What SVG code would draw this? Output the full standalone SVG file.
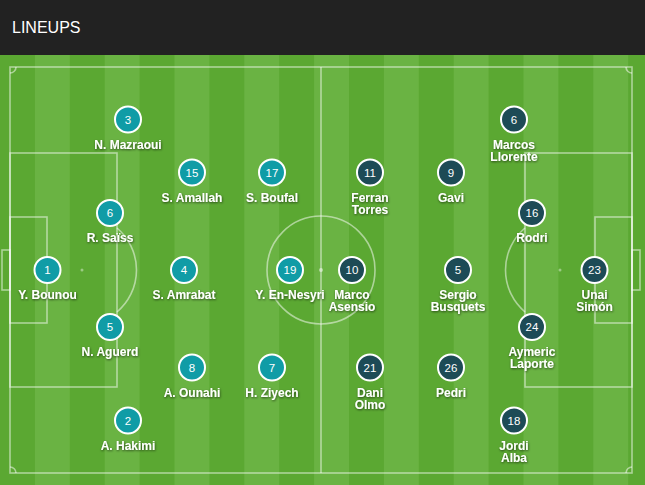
<svg xmlns="http://www.w3.org/2000/svg" width="645" height="485" viewBox="0 0 645 485">
<defs>
<style>
.hdr{font-family:"Liberation Sans",Arial,sans-serif;font-size:16px;fill:#fff}
.ln{fill:none;stroke:#fff;stroke-opacity:.5;stroke-width:1.6}
.dk{fill:#5ba832}
.lt{fill:#6ab343}
.mor{fill:#109ca6;stroke:#fff;stroke-width:2}
.esp{fill:#1d4b56;stroke:#fff;stroke-width:2}
.num{font-family:"Liberation Sans",Arial,sans-serif;font-size:11.5px;fill:#fff;text-anchor:middle}
.nm{font-family:"Liberation Sans",Arial,sans-serif;font-size:12px;font-weight:bold;fill:#fff;text-anchor:middle;filter:url(#sh)}
</style>
<filter id="sh" x="-20%" y="-40%" width="140%" height="180%">
<feDropShadow dx="0.5" dy="1" stdDeviation="0.8" flood-color="#000" flood-opacity="0.6"/>
</filter>
</defs>
<rect x="0" y="0" width="645" height="55" fill="#222"/>
<text class="hdr" x="12" y="33">LINEUPS</text>
<g id="pitch">
<rect x="0" y="55" width="645" height="430" class="dk"/>
<rect x="34.9" y="55" width="34.9" height="430" class="lt"/>
<rect x="104.7" y="55" width="34.9" height="430" class="lt"/>
<rect x="174.5" y="55" width="34.9" height="430" class="lt"/>
<rect x="244.3" y="55" width="34.9" height="430" class="lt"/>
<rect x="314.1" y="55" width="34.9" height="430" class="lt"/>
<rect x="383.9" y="55" width="34.9" height="430" class="lt"/>
<rect x="453.7" y="55" width="34.9" height="430" class="lt"/>
<rect x="523.5" y="55" width="34.9" height="430" class="lt"/>
<rect x="593.3" y="55" width="34.9" height="430" class="lt"/>
<rect x="10" y="67" width="622" height="406" class="ln"/>
<line x1="321" y1="67" x2="321" y2="473" class="ln"/>
<circle cx="321" cy="270" r="54" class="ln"/>
<circle cx="321" cy="270" r="2" fill="#fff" fill-opacity=".5"/>
<rect x="10" y="153" width="107" height="234" class="ln"/>
<rect x="10" y="217" width="37" height="106" class="ln"/>
<rect x="2" y="250" width="8" height="40" class="ln"/>
<path d="M117,228 A55,55 0 0 1 117,312" class="ln"/>
<circle cx="82" cy="270" r="1.5" fill="#fff" fill-opacity=".4"/>
<rect x="525" y="153" width="107" height="234" class="ln"/>
<rect x="595" y="217" width="37" height="106" class="ln"/>
<rect x="632" y="250" width="8" height="40" class="ln"/>
<path d="M525,228 A55,55 0 0 0 525,312" class="ln"/>
<circle cx="560" cy="270" r="1.5" fill="#fff" fill-opacity=".4"/>
<path d="M16,67 A6,6 0 0 1 10,73" class="ln"/>
<path d="M626,67 A6,6 0 0 0 632,73" class="ln"/>
<path d="M10,467 A6,6 0 0 1 16,473" class="ln"/>
<path d="M632,467 A6,6 0 0 0 626,473" class="ln"/>
</g>
<g id="connectors"/>
<g id="p-bounou"><circle cx="47.5" cy="270" r="13" class="mor"/><text class="num" x="47.5" y="274">1</text><text class="nm" x="47.5" y="299">Y. Bounou</text></g>
<g id="p-saiss"><circle cx="110" cy="213" r="13" class="mor"/><text class="num" x="110" y="217">6</text><text class="nm" x="110" y="242">R. Saïss</text></g>
<g id="p-aguerd"><circle cx="110" cy="327" r="13" class="mor"/><text class="num" x="110" y="331">5</text><text class="nm" x="110" y="356">N. Aguerd</text></g>
<g id="p-mazraoui"><circle cx="128" cy="119.5" r="13" class="mor"/><text class="num" x="128" y="123.5">3</text><text class="nm" x="128" y="148.5">N. Mazraoui</text></g>
<g id="p-hakimi"><circle cx="128" cy="420.5" r="13" class="mor"/><text class="num" x="128" y="424.5">2</text><text class="nm" x="128" y="449.5">A. Hakimi</text></g>
<g id="p-amallah"><circle cx="192" cy="172.5" r="13" class="mor"/><text class="num" x="192" y="176.5">15</text><text class="nm" x="192" y="201.5">S. Amallah</text></g>
<g id="p-amrabat"><circle cx="184" cy="270" r="13" class="mor"/><text class="num" x="184" y="274">4</text><text class="nm" x="184" y="299">S. Amrabat</text></g>
<g id="p-ounahi"><circle cx="192" cy="367.5" r="13" class="mor"/><text class="num" x="192" y="371.5">8</text><text class="nm" x="192" y="396.5">A. Ounahi</text></g>
<g id="p-boufal"><circle cx="272" cy="172.5" r="13" class="mor"/><text class="num" x="272" y="176.5">17</text><text class="nm" x="272" y="201.5">S. Boufal</text></g>
<g id="p-ennesyri"><circle cx="290" cy="270" r="13" class="mor"/><text class="num" x="290" y="274">19</text><text class="nm" x="290" y="299">Y. En-Nesyri</text></g>
<g id="p-ziyech"><circle cx="272" cy="367.5" r="13" class="mor"/><text class="num" x="272" y="371.5">7</text><text class="nm" x="272" y="396.5">H. Ziyech</text></g>
<g id="p-simon"><circle cx="594.5" cy="270" r="13" class="esp"/><text class="num" x="594.5" y="274">23</text><text class="nm" x="594.5" y="299">Unai</text><text class="nm" x="594.5" y="311">Simón</text></g>
<g id="p-rodri"><circle cx="532" cy="213" r="13" class="esp"/><text class="num" x="532" y="217">16</text><text class="nm" x="532" y="242">Rodri</text></g>
<g id="p-laporte"><circle cx="532" cy="327" r="13" class="esp"/><text class="num" x="532" y="331">24</text><text class="nm" x="532" y="356">Aymeric</text><text class="nm" x="532" y="368">Laporte</text></g>
<g id="p-llorente"><circle cx="514" cy="119.5" r="13" class="esp"/><text class="num" x="514" y="123.5">6</text><text class="nm" x="514" y="148.5">Marcos</text><text class="nm" x="514" y="160.5">Llorente</text></g>
<g id="p-alba"><circle cx="514" cy="420.5" r="13" class="esp"/><text class="num" x="514" y="424.5">18</text><text class="nm" x="514" y="449.5">Jordi</text><text class="nm" x="514" y="461.5">Alba</text></g>
<g id="p-busquets"><circle cx="458" cy="270" r="13" class="esp"/><text class="num" x="458" y="274">5</text><text class="nm" x="458" y="299">Sergio</text><text class="nm" x="458" y="311">Busquets</text></g>
<g id="p-gavi"><circle cx="451" cy="172.5" r="13" class="esp"/><text class="num" x="451" y="176.5">9</text><text class="nm" x="451" y="201.5">Gavi</text></g>
<g id="p-pedri"><circle cx="451" cy="367.5" r="13" class="esp"/><text class="num" x="451" y="371.5">26</text><text class="nm" x="451" y="396.5">Pedri</text></g>
<g id="p-torres"><circle cx="370" cy="172.5" r="13" class="esp"/><text class="num" x="370" y="176.5">11</text><text class="nm" x="370" y="201.5">Ferran</text><text class="nm" x="370" y="213.5">Torres</text></g>
<g id="p-asensio"><circle cx="352" cy="270" r="13" class="esp"/><text class="num" x="352" y="274">10</text><text class="nm" x="352" y="299">Marco</text><text class="nm" x="352" y="311">Asensio</text></g>
<g id="p-olmo"><circle cx="370" cy="367.5" r="13" class="esp"/><text class="num" x="370" y="371.5">21</text><text class="nm" x="370" y="396.5">Dani</text><text class="nm" x="370" y="408.5">Olmo</text></g>
</svg>
